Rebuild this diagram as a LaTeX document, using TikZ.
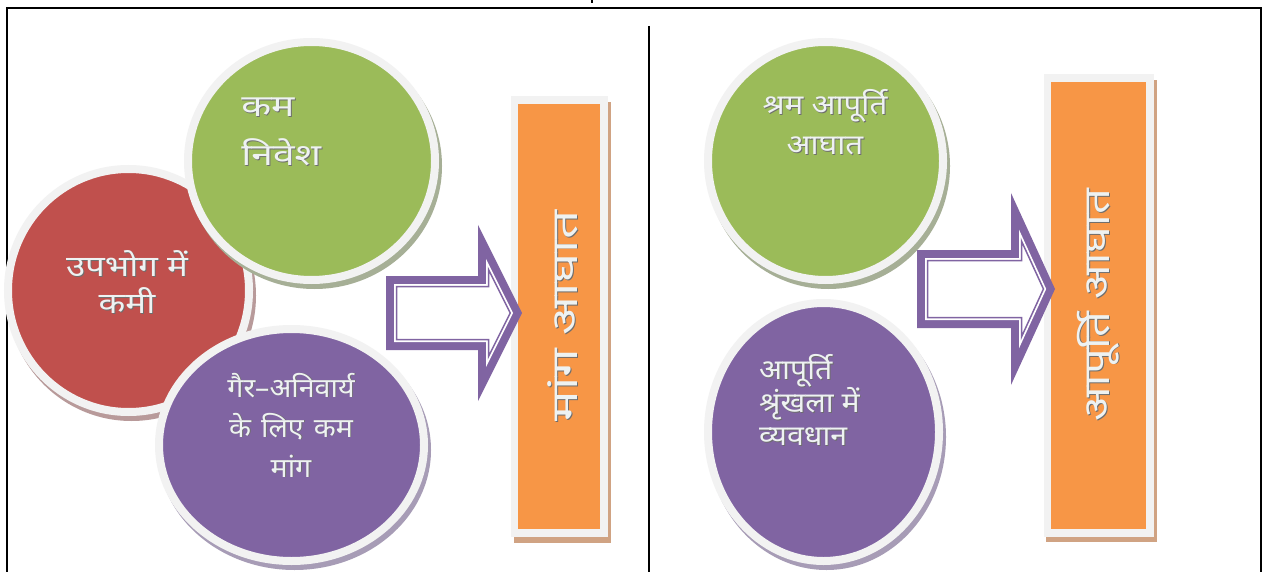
\documentclass[tikz,border=0pt]{standalone}
\usepackage{fontspec}
\newfontfamily\dev[Script=Devanagari]{Noto Sans}
\usetikzlibrary{calc,shapes.geometric}

\definecolor{cred}{HTML}{C0504D}
\definecolor{cgreen}{HTML}{9BBB59}
\definecolor{cpurple}{HTML}{8064A2}
\definecolor{corange}{HTML}{F79646}
\definecolor{crim}{HTML}{F2F2F2}
\definecolor{ctan}{HTML}{D0A383}
\definecolor{shred}{HTML}{B89A9A}
\definecolor{shgreen}{HTML}{A6AF96}
\definecolor{shpurple}{HTML}{A79CB6}
\definecolor{txtlight}{HTML}{EEF2F2}
\definecolor{txtdark}{HTML}{6E6E6E}

\tikzset{
  bubble/.style={ellipse, draw=crim, line width=8pt, inner sep=0pt},
  bar/.style={rectangle, draw=crim, fill=corange, line width=7.5pt, inner sep=0pt},
  txt/.style={inner sep=0pt, text=txtlight},
  txtsh/.style={inner sep=0pt, text=txtdark},
}

% ellipse with a soft offset shadow: name, cx, cy, rx, ry, fill, shadow
\newcommand\bubbleat[7]{%
  \fill[#7] (#2+3,#3+5) ellipse ({#4+8} and {#5+8});
  \node[bubble, fill=#6, minimum width={2*(#4+4)}, minimum height={2*(#5+4)}] (#1) at (#2,#3) {};
}

% embossed label: name, position, options, text
\newcommand\emb[4]{%
  \node[txtsh, #3] at ($(#2)+(0.9,0.9)$) {#4};
  \node[txt, #3] (#1) at (#2) {#4};
}

% outline of a block arrow, inset by #7:
% #1 left x, #2 axis y, #3 body half height, #4 head base x, #5 head half height, #6 tip x
\newcommand\arrowpts[7]{%
  \pgfmathsetmacro\arHl{#6-#4}%
  \pgfmathsetmacro\arLen{sqrt(\arHl*\arHl+#5*#5)}%
  \pgfmathsetmacro\arAx{#1+#7}%
  \pgfmathsetmacro\arBt{#2-#3+#7}%
  \pgfmathsetmacro\arBb{#2+#3-#7}%
  \pgfmathsetmacro\arHx{#4+#7}%
  \pgfmathsetmacro\arHt{#2-#5+#7*#5/\arHl+#7*\arLen/\arHl}%
  \pgfmathsetmacro\arHb{#2+#5-#7*#5/\arHl-#7*\arLen/\arHl}%
  \pgfmathsetmacro\arTx{#6-#7*\arLen/#5}%
}
\newcommand\arrowpath{(\arAx,\arBt) -- (\arHx,\arBt) -- (\arHx,\arHt) -- (\arTx,\arAy) -- (\arHx,\arHb) -- (\arHx,\arBb) -- (\arAx,\arBb) -- cycle}
\newcommand\blockarrow[6]{%
  \def\arAy{#2}%
  \arrowpts{#1}{#2}{#3}{#4}{#5}{#6}{0}
  \fill[cpurple] \arrowpath;
  \arrowpts{#1}{#2}{#3}{#4}{#5}{#6}{8}
  \fill[white] \arrowpath;
  \arrowpts{#1}{#2}{#3}{#4}{#5}{#6}{10.5}
  \draw[cpurple, line width=1.5pt, line join=miter] \arrowpath;
}

\begin{document}
\begin{tikzpicture}[x=1pt, y=-1pt]
\useasboundingbox (0,0) rectangle (1266,572);
\fill[white] (0,0) rectangle (1266,572);

% frame and divider
\draw[line width=2pt] (7,572) -- (7,8) -- (1261,8) -- (1261,572);
\draw[line width=1.5pt] (649,26) -- (649,572);
\draw[line width=1.2pt] (592,0) -- (592,3);

% ---------- demand side ----------
\bubbleat{consume}{128.5}{290.5}{116.5}{117.5}{cred}{shred}
\bubbleat{invest}{311.5}{161}{119.5}{115}{cgreen}{shgreen}
\bubbleat{nonessential}{291.5}{445}{128.5}{112}{cpurple}{shpurple}

\emb{tInvest}{241,132}{anchor=west, align=left, xscale=1.3, font=\dev\fontsize{30}{49}\selectfont}{कम\\निवेश}
\emb{tConsume}{127,282}{align=center, xscale=1.2, font=\dev\fontsize{29}{37}\selectfont}{उपभोग में\\कमी}
\emb{tNonEss}{291,425}{align=center, xscale=1.06, font=\dev\fontsize{27}{40}\selectfont}{गैर–अनिवार्य\\के\hspace{0.35em}लिए\hspace{0.35em}कम\\मांग}

\fill[ctan] (514,102) rectangle (611,543);
\node[bar, minimum width=89.5pt, minimum height=432.5pt] (demandbar) at (559,316.5) {};
\emb{tDemand}{563,316}{rotate=90, font=\dev\fontsize{36}{36}\selectfont}{\scalebox{1.42}[1]{मांग आघात}}

\blockarrow{386}{313}{37}{478}{88}{522}

% ---------- supply side ----------
\bubbleat{labour}{825.5}{161}{113.5}{115}{cgreen}{shgreen}
\bubbleat{chain}{823.5}{432}{111.5}{125}{cpurple}{shpurple}

\emb{tLabour}{825,122}{align=center, xscale=1.12, font=\dev\fontsize{28}{40}\selectfont}{श्रम आपूर्ति\\आघात}
\emb{tChain}{759,400}{anchor=west, align=left, xscale=1.08, font=\dev\fontsize{28}{33}\selectfont}{आपूर्ति\\श्रृंखला में\\व्यवधान}

\fill[ctan] (1046,80) rectangle (1157,542);
\node[bar, minimum width=102.5pt, minimum height=454.5pt] (supplybar) at (1098.5,305.5) {};
\emb{tSupply}{1098,305}{rotate=90, font=\dev\fontsize{36}{36}\selectfont}{\scalebox{1.26}[1]{आपूर्ति आघात}}

\blockarrow{917}{289}{39}{1011}{96}{1055}
\end{tikzpicture}
\end{document}
